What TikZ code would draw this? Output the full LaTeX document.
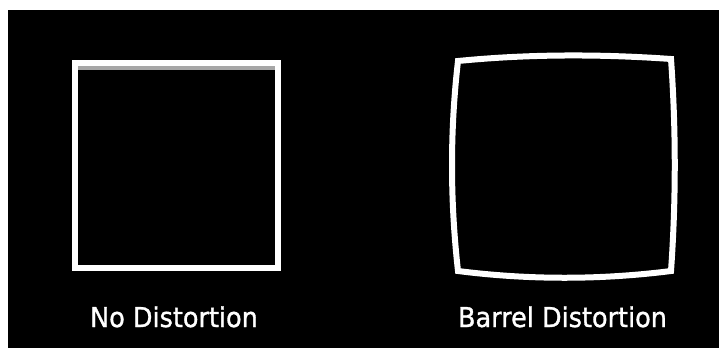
\documentclass[tikz,border=0pt]{standalone}
\usepackage{graphicx}
\usepackage{fontspec}
\newfontfamily\labelfont[FakeBold=1.2]{DejaVu Sans}
\newcommand{\tallcap}[1]{\scalebox{1}[1.07]{#1}}
\begin{document}
\begin{tikzpicture}[x=1pt,y=-1pt,
  frame/.style={draw=white,line width=6pt},
  caption/.style={text=white,font=\labelfont\fontsize{25.5}{28}\selectfont,anchor=base,inner sep=0pt}]
\useasboundingbox (0,0) rectangle (719,348);
\fill[white] (0,0) rectangle (719,348);
\fill[black] (8,10) rectangle (719,348);
% undistorted square
\fill[gray!70] (78,66) rectangle (275,70);
\draw[frame,line join=miter] (75,63) rectangle (278,268);
% barrel distorted square
\draw[frame,line join=miter]
  (458,61) .. controls (529,54) and (600,54) .. (671,59)
  .. controls (676,130) and (676,200) .. (671,271)
  .. controls (600,280) and (529,280) .. (458,271)
  .. controls (450,200) and (450,130) .. cycle;
% captions
\node[caption] (nodist) at (174,327) {\tallcap{No Distortion}};
\node[caption] (barrel) at (562.5,327) {\tallcap{Barrel Distortion}};
\end{tikzpicture}
\end{document}
